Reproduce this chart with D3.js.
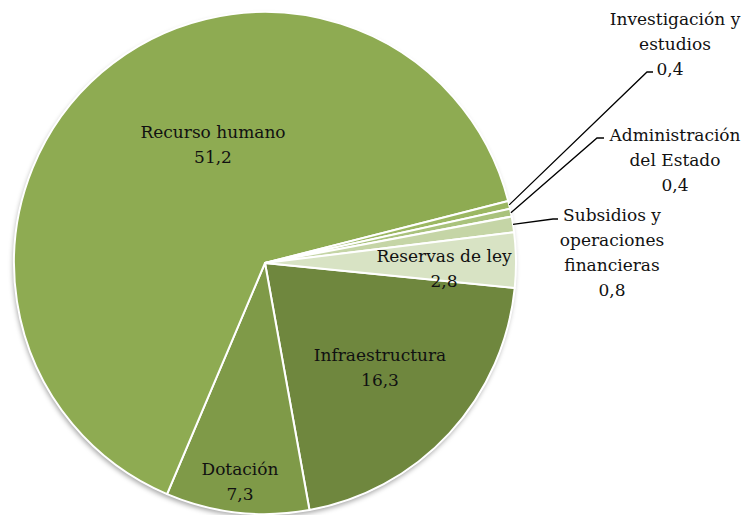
<!DOCTYPE html>
<html>
<head>
<meta charset="utf-8">
<script src="https://cdn.jsdelivr.net/npm/d3@7"></script>
<style>
  body { margin: 0; background: #fff; }
  text { font-family: "DejaVu Serif", serif; font-size: 17px; fill: #111; }
</style>
</head>
<body>
<div id="chart"></div>
<script>
// data (clockwise, starting from Infraestructura)
var categories = ["Infraestructura", "Dotación", "Recurso humano", "Investigación y estudios",
    "Administración del Estado", "Subsidios y operaciones financieras", "Reservas de ley"];
var values = [16.3, 7.3, 51.2, 0.4, 0.4, 0.8, 2.8];
var valueLabels = ["16,3", "7,3", "51,2", "0,4", "0,4", "0,8", "2,8"];
var labelLines = [
    ["Infraestructura"], ["Dotación"], ["Recurso humano"],
    ["Investigación y", "estudios"], ["Administración", "del Estado"],
    ["Subsidios y", "operaciones", "financieras"], ["Reservas de ley"]
];
var colors = ["#6f873e", "#7f9a48", "#8eab52", "#9bb762", "#a9c27c", "#c5d5a6", "#d8e3c4"];

// layout
var svgWidth = 747, svgHeight = 515;
var cx = 265, cy = 263, radius = 251;
var startAngle = 95.7 * Math.PI / 180;

// label anchors (center x, first baseline y) and leader elbows
var labelPos = [
    [380, 361], [240, 475], [213, 138], [675, 25], [675, 141], [612, 221], [444, 262]
];
var elbows = [null, null, null, [[647, 72], [653, 72]], [[597, 138], [604, 138]], [[553, 219], [558, 219]], null];
var lineGap = 25;

var svg = d3.select("#chart")
    .append("svg")
    .attr("width", svgWidth)
    .attr("height", svgHeight);

var defs = svg.append("defs");
var filter = defs.append("filter").attr("id", "shadow")
    .attr("x", "-10%").attr("y", "-10%").attr("width", "120%").attr("height", "120%");
filter.append("feDropShadow")
    .attr("dx", -1).attr("dy", 3).attr("stdDeviation", 2.5)
    .attr("flood-color", "#000").attr("flood-opacity", 0.35);

var pie = d3.pie()
    .sort(null)
    .value(d => d)
    .startAngle(startAngle)
    .endAngle(startAngle + 2 * Math.PI);

var arcs = pie(values);

var arc = d3.arc().innerRadius(0).outerRadius(radius);

var g = svg.append("g")
    .attr("transform", `translate(${cx}, ${cy})`);

g.append("circle")
    .attr("r", radius)
    .attr("fill", "#fff")
    .attr("filter", "url(#shadow)");

g.selectAll("path.slice")
    .data(arcs)
    .enter()
    .append("path")
    .attr("class", "slice")
    .attr("d", arc)
    .attr("fill", (d, i) => colors[i])
    .attr("stroke", "#fff")
    .attr("stroke-width", 2)
    .attr("stroke-linejoin", "round");

// leader lines
arcs.forEach(function(d, i) {
    if (!elbows[i]) return;
    var mid = (d.startAngle + d.endAngle) / 2;
    var p0 = [cx + radius * Math.sin(mid), cy - radius * Math.cos(mid)];
    var pts = [p0].concat(elbows[i]);
    svg.append("path")
        .attr("d", d3.line()(pts))
        .attr("fill", "none")
        .attr("stroke", "#000")
        .attr("stroke-width", 1.3);
});

// labels
categories.forEach(function(c, i) {
    var t = svg.append("text")
        .attr("text-anchor", "middle")
        .attr("x", labelPos[i][0])
        .attr("y", labelPos[i][1]);
    labelLines[i].concat([valueLabels[i]]).forEach(function(line, k) {
        t.append("tspan")
            .attr("x", labelPos[i][0] + (k === labelLines[i].length && i === 3 ? -5 : 0))
            .attr("dy", k === 0 ? 0 : lineGap)
            .text(line);
    });
});
</script>
</body>
</html>
